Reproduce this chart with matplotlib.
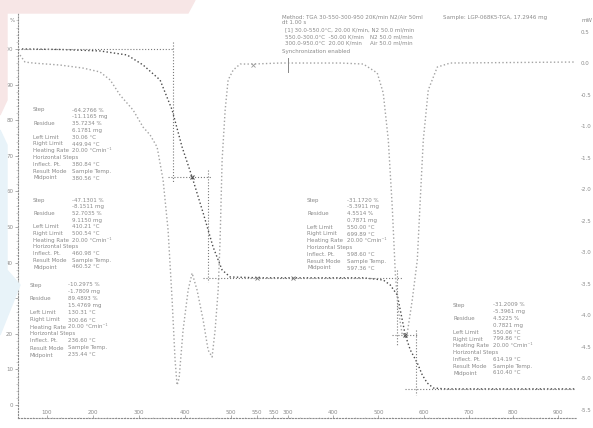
import matplotlib.pyplot as plt
import numpy as np
from matplotlib.patches import Polygon

W, H = 593, 428

# TGA weight curve (time in min, weight in %)
tga_time = [0.78, 4.91, 9.26, 12.20, 13.93, 15.78, 17.09, 18.17, 19.26, 20.46,
            21.54, 22.52, 23.39, 26.65, 31.0, 37.85, 40.02, 40.78, 41.54, 41.87,
            42.41, 42.96, 43.72, 44.26, 44.80, 45.46, 46.76, 60.9]
tga_weight = [100.0, 99.86, 99.44, 98.31, 95.51, 91.29, 82.87, 72.47, 64.04, 53.93,
              44.38, 37.92, 35.96, 35.72, 35.72, 35.72, 35.11, 33.71, 30.90, 26.69,
              19.66, 15.45, 11.80, 8.43, 6.18, 4.78, 4.52, 4.52]

# DSC heat flow curve (time in min, heat flow in mW)
dsc_time = [0.57, 1.11, 1.98, 4.91, 7.41, 9.26, 10.37, 11.43, 12.85, 13.93,
            14.70, 15.46, 16.11, 16.65, 17.09, 17.41, 17.63, 17.85, 18.28, 18.83,
            19.26, 19.80, 20.46, 21.00, 21.43, 21.76, 22.09, 22.30, 22.52, 22.85,
            23.17, 23.72, 24.48, 25.89, 28.83, 35.35, 37.85, 39.37, 40.02, 40.57,
            41.00, 41.33, 41.65, 42.09, 42.63, 43.17, 43.72, 44.04, 44.37, 44.91,
            45.89, 47.30, 60.9]
dsc_flow = [0.126, 0.016, 0.0, -0.032, -0.080, -0.142, -0.270, -0.508, -0.746, -1.016,
            -1.142, -1.334, -1.858, -2.650, -3.762, -4.714, -5.112, -5.00, -4.238, -3.604,
            -3.334, -3.604, -4.080, -4.556, -4.666, -4.238, -3.604, -2.810, -1.540, -0.746,
            -0.270, -0.112, -0.016, -0.016, 0.0, 0.0, -0.016, -0.158, -0.476, -1.222,
            -2.286, -3.334, -3.920, -4.318, -4.286, -3.762, -3.126, -2.174, -1.222, -0.428,
            -0.064, 0.0, 0.016]

# temperature labels along the time axis
x_tick_time = [3.5, 8.5, 13.5, 18.5, 23.5, 26.3, 28.1, 29.7, 34.6, 39.5, 44.4, 49.3, 54.1, 59.0]
x_tick_label = ['100', '200', '300', '400', '500', '550', '550', '300',
                '400', '500', '600', '700', '800', '900']
left_ticks = list(range(0, 101, 10))
right_ticks = [0.5, 0.0, -0.5, -1.0, -1.5, -2.0, -2.5, -3.0, -3.5, -4.0, -4.5, -5.0, -5.5]

# step evaluation: (x0, x1, y) horizontals and (x, y0, y1) verticals
eval_h = [(0.35, 17.2, 100.0), (16.67, 21.43, 64.04), (20.46, 42.09, 35.72),
          (41.0, 43.83, 19.66), (42.41, 60.9, 4.52)]
eval_v = [(17.2, 102.0, 62.4), (21.0, 66.0, 34.5), (41.54, 37.9, 16.8), (43.61, 21.1, 2.8)]
inflect_time = [19.26, 42.41]
inflect_weight = [64.04, 19.66]

row_names = ['Step', 'Residue', 'Left Limit', 'Right Limit', 'Heating Rate',
             'Horizontal Steps', 'Inflect. Pt.', 'Result Mode', 'Midpoint']
blocks = [
    ((33, 72, 110, 6.8), ['-64.2766 %', '-11.1165 mg', '35.7234 %', '6.1781 mg', '30.06 °C',
                          '449.94 °C', '20.00 °Cmin⁻¹', '380.84 °C', 'Sample Temp.', '380.56 °C']),
    ((33, 72, 200, 6.7), ['-47.1301 %', '-8.1511 mg', '52.7035 %', '9.1150 mg', '410.21 °C',
                          '500.54 °C', '20.00 °Cmin⁻¹', '460.98 °C', 'Sample Temp.', '460.52 °C']),
    ((30, 68, 285, 7.0), ['-10.2975 %', '-1.7809 mg', '89.4893 %', '15.4769 mg', '130.31 °C',
                          '300.66 °C', '20.00 °Cmin⁻¹', '236.60 °C', 'Sample Temp.', '235.44 °C']),
    ((307, 347, 200, 6.8), ['-31.1720 %', '-5.3911 mg', '4.5514 %', '0.7871 mg', '550.00 °C',
                            '699.89 °C', '20.00 °Cmin⁻¹', '598.60 °C', 'Sample Temp.', '597.36 °C']),
    ((453, 493, 305, 6.8), ['-31.2009 %', '-5.3961 mg', '4.5225 %', '0.7821 mg', '550.06 °C',
                            '799.86 °C', '20.00 °Cmin⁻¹', '614.19 °C', 'Sample Temp.', '610.40 °C']),
]

fig = plt.figure(figsize=(W / 100, H / 100), dpi=100)

# faint coloured backdrop at the top-left and left edge
fig.patches.append(Polygon([(0, 1), (195 / W, 1), (188 / W, 1 - 13 / H), (7 / W, 1 - 13 / H),
                            (7 / W, 1 - 100 / H), (0, 1 - 115 / H)],
                           closed=True, transform=fig.transFigure, color='#f7e6e6', zorder=0))
fig.patches.append(Polygon([(0, 1 - 130 / H), (7 / W, 1 - 145 / H), (7 / W, 1 - 270 / H),
                            (20 / W, 1 - 285 / H), (0, 1 - 335 / H)],
                           closed=True, transform=fig.transFigure, color='#e8f3f9', zorder=0))

ax = fig.add_axes([18 / W, 10 / H, (576.4 - 18) / W, 405 / H])
ax.set_facecolor('none')
ax.set_xlim(0.35, 61.0)
ax.set_ylim(-3.65, 110.1)
ax2 = ax.twinx()
ax2.set_ylim(-5.634, 0.794)

grey = '#8a8a8a'
ax.plot(tga_time, tga_weight, ls=':', color='#4a4a4a', lw=1.0)
ax2.plot(dsc_time, dsc_flow, ls=':', color='#a3a3a3', lw=1.0)

for x0, x1, y in eval_h:
    ax.plot([x0, x1], [y, y], ls=':', color='#7a7a7a', lw=0.8)
for x, y0, y1 in eval_v:
    ax.plot([x, x], [y0, y1], ls=':', color='#7a7a7a', lw=0.8)
ax.plot(inflect_time, inflect_weight, 'x', color='#555555', ms=3, mew=0.8)
ax.plot([26.33, 30.24], [35.72, 35.72], 'x', color='#777777', ms=2.5, mew=0.6)
ax2.plot([25.89], [-0.032], 'x', color='#999999', ms=2.5, mew=0.6)
ax2.plot([29.73, 29.73], [0.08, -0.14], color='#888888', lw=0.7)

# axes styling
for s in ['top', 'right']:
    ax.spines[s].set_visible(False)
for s in ax2.spines.values():
    s.set_visible(False)
for s in ['left', 'bottom']:
    ax.spines[s].set_linestyle(':')
    ax.spines[s].set_color('#8c8c8c')
    ax.spines[s].set_linewidth(0.8)

ax.set_yticks(left_ticks)
ax.set_yticks(np.arange(0, 110, 2), minor=True)
ax.tick_params(axis='y', which='major', labelsize=4, labelcolor=grey, color='#8c8c8c',
               length=2.5, width=0.5, pad=1)
ax.tick_params(axis='y', which='minor', color='#aaaaaa', length=1.2, width=0.4)
ax.set_xticks(x_tick_time)
ax.set_xticklabels(x_tick_label)
ax.set_xticks(np.arange(1, 61, 1), minor=True)
ax.tick_params(axis='x', which='major', labelsize=4, labelcolor=grey, color='#8c8c8c',
               direction='in', length=2, width=0.5, pad=-6)
ax.tick_params(axis='x', which='minor', color='#aaaaaa', direction='in', length=1, width=0.4)
ax2.set_yticks(right_ticks)
ax2.set_yticklabels(['%.1f' % v for v in right_ticks])
ax2.tick_params(axis='y', labelsize=4, labelcolor=grey, length=0, pad=3)

fig.text(10 / W, 1 - 20 / H, '%', fontsize=4, color=grey, va='center')
fig.text(581 / W, 1 - 20 / H, 'mW', fontsize=4, color=grey, va='center')


def px_text(x, y, s, **kw):
    fig.text(x / W, 1 - y / H, s, fontsize=4, color=grey, va='center', ha='left', **kw)


# method header and sample name
px_text(282, 17, 'Method: TGA 30-550-300-950 20K/min N2/Air 50ml')
px_text(282, 23, 'dt 1.00 s')
px_text(285, 30, '[1] 30.0-550.0°C, 20.00 K/min, N2 50.0 ml/min')
px_text(285, 37, '550.0-300.0°C  -50.00 K/min')
px_text(370, 37, 'N2 50.0 ml/min')
px_text(285, 43, '300.0-950.0°C  20.00 K/min')
px_text(370, 43, 'Air 50.0 ml/min')
px_text(282, 52, 'Synchronization enabled')
px_text(443, 18, 'Sample: LGP-068K5-TGA, 17.2946 mg')

# evaluation result blocks
for (lx, vx, top, dy), vals in blocks:
    rows = [(row_names[0], vals[0]), ('', vals[1]), (row_names[1], vals[2]), ('', vals[3]),
            (row_names[2], vals[4]), (row_names[3], vals[5]), (row_names[4], vals[6]),
            (row_names[5], ''), (row_names[6], vals[7]), (row_names[7], vals[8]),
            (row_names[8], vals[9])]
    for i, (name, val) in enumerate(rows):
        y = top + i * dy
        if name:
            px_text(lx, y, name)
        if val:
            px_text(vx, y, val)

fig.savefig('out.png', dpi=100)
